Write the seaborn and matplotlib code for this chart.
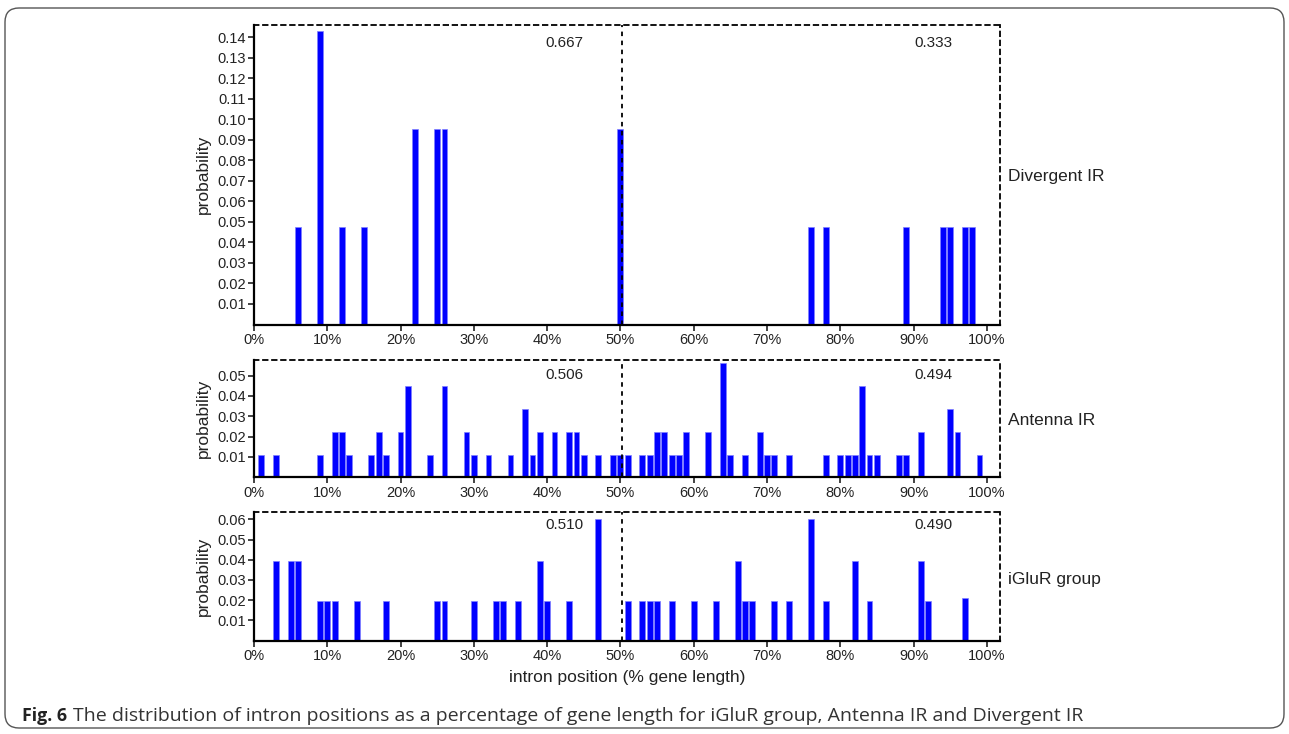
import seaborn as sns
import matplotlib.pyplot as plt
from matplotlib.patches import FancyBboxPatch
from matplotlib.transforms import IdentityTransform

# intron position (% gene length) and probability
div_pos = [6, 9, 12, 15, 22, 25, 26, 50, 76, 78, 89, 94, 95, 97, 98]
div_prob = [0.0476, 0.1429, 0.0476, 0.0476, 0.0952, 0.0952, 0.0952, 0.0952,
            0.0476, 0.0476, 0.0476, 0.0476, 0.0476, 0.0476, 0.0476]

ant_pos = [1, 3, 9, 11, 12, 13, 16, 17, 18, 20, 21, 24, 26, 29, 30, 32, 35, 37, 38, 39,
           41, 43, 44, 45, 47, 49, 50, 51, 53, 54, 55, 56, 57, 58, 59, 62, 64, 65, 67,
           69, 70, 71, 73, 78, 80, 81, 82, 83, 84, 85, 88, 89, 91, 95, 96, 99]
ant_prob = [0.0112, 0.0112, 0.0112, 0.0225, 0.0225, 0.0112, 0.0112, 0.0225, 0.0112, 0.0225,
            0.0449, 0.0112, 0.0449, 0.0225, 0.0112, 0.0112, 0.0112, 0.0337, 0.0112, 0.0225,
            0.0225, 0.0225, 0.0225, 0.0112, 0.0112, 0.0112, 0.0112, 0.0112, 0.0112, 0.0112,
            0.0225, 0.0225, 0.0112, 0.0112, 0.0225, 0.0225, 0.0562, 0.0112, 0.0112, 0.0225,
            0.0112, 0.0112, 0.0112, 0.0112, 0.0112, 0.0112, 0.0112, 0.0449, 0.0112, 0.0112,
            0.0112, 0.0112, 0.0225, 0.0337, 0.0225, 0.0112]

glu_pos = [3, 5, 6, 9, 10, 11, 14, 18, 25, 26, 30, 33, 34, 36, 39, 40, 43, 47, 51, 53,
           54, 55, 57, 60, 63, 66, 67, 68, 71, 73, 76, 78, 82, 84, 91, 92, 97]
glu_prob = [0.0392, 0.0392, 0.0392, 0.0196, 0.0196, 0.0196, 0.0196, 0.0196, 0.0196, 0.0196,
            0.0196, 0.0196, 0.0196, 0.0196, 0.0392, 0.0196, 0.0196, 0.0600, 0.0196, 0.0196,
            0.0196, 0.0196, 0.0196, 0.0196, 0.0196, 0.0392, 0.0196, 0.0196, 0.0196, 0.0196,
            0.0600, 0.0196, 0.0392, 0.0196, 0.0392, 0.0196, 0.0210]

groups = ["Divergent IR", "Antenna IR", "iGluR group"]
left_share = ["0.667", "0.506", "0.510"]
right_share = ["0.333", "0.494", "0.490"]
x_ticks = [0, 10, 20, 30, 40, 50, 60, 70, 80, 90, 100]

sns.set_style("ticks")
plt.rcParams['font.family'] = ['Liberation Sans', 'DejaVu Sans']

W, H = 1289, 734
fig = plt.figure(figsize=(W / 100, H / 100), dpi=100)

# panel boxes in pixels: (top, bottom)
boxes = [(25, 324.5), (360, 477.3), (511.7, 640.5)]
ymax = [0.146, 0.0577, 0.0638]
yticks = [[i / 100 for i in range(1, 15)], [i / 100 for i in range(1, 6)],
          [i / 100 for i in range(1, 7)]]
share_y = [0.94, 0.872, 0.897]
label_y = [0.4925, 0.48, 0.47]
data = [(div_pos, div_prob), (ant_pos, ant_prob), (glu_pos, glu_prob)]

x0, x1 = 254, 1000
for i, (top, bot) in enumerate(boxes):
    ax = fig.add_axes([x0 / W, 1 - bot / H, (x1 - x0) / W, (bot - top) / H])
    pos, prob = data[i]
    sns.barplot(x=pos, y=prob, native_scale=True, color="#0000ff", saturation=1,
                width=0.8, edgecolor="#8080ff", linewidth=0.5, errorbar=None, ax=ax)
    ax.set_xlim(0, 101.8)
    ax.set_ylim(0, ymax[i])
    ax.set_xticks(x_ticks)
    ax.set_xticklabels([f"{t}%" for t in x_ticks])
    ax.set_yticks(yticks[i])
    ax.set_yticklabels([f"{t:.2f}" for t in yticks[i]])
    ax.tick_params(direction="out", length=4, width=1.2, labelsize=10.5,
                   colors="#222222", pad=2)
    for s in ["left", "bottom"]:
        ax.spines[s].set_linewidth(1.6)
        ax.spines[s].set_color("black")
    for s in ["top", "right"]:
        ax.spines[s].set_visible(True)
        ax.spines[s].set_linewidth(1.3)
        ax.spines[s].set_linestyle((0, (2.5, 2.5)))
        ax.spines[s].set_color("black")
    ax.axvline(50.2, color="black", lw=1.3, ls=(0, (2.5, 2.5)))
    ax.set_ylabel("probability", fontsize=12.5, color="#222222")
    ax.yaxis.set_label_coords(-0.058, 0.5)
    ax.text(42.4, share_y[i], left_share[i], transform=ax.get_xaxis_transform(),
            ha="center", va="center", fontsize=11, color="#222222")
    ax.text(92.7, share_y[i], right_share[i], transform=ax.get_xaxis_transform(),
            ha="center", va="center", fontsize=11, color="#222222")
    ax.text(1.011, label_y[i], groups[i], transform=ax.transAxes,
            ha="left", va="center", fontsize=12.5, color="#222222")
    if i == 2:
        ax.set_xlabel("intron position (% gene length)", fontsize=12.5,
                      color="#222222", labelpad=5)

# caption and rounded frame
fig.text(22 / W, 1 - 716 / H, "Fig. 6", fontsize=12.8, fontweight="bold",
         family="Open Sans", va="center", ha="left", color="#222222")
fig.text(73 / W, 1 - 716 / H,
         "The distribution of intron positions as a percentage of gene length "
         "for iGluR group, Antenna IR and Divergent IR",
         fontsize=14, family="Open Sans", va="center", ha="left", color="#333333")
frame = FancyBboxPatch((5, H - 728), W - 10, 720,
                       boxstyle="round,pad=0,rounding_size=14",
                       transform=IdentityTransform(), fill=False,
                       edgecolor="#555555", linewidth=1)
fig.add_artist(frame)

fig.savefig("out.png", dpi=100)
